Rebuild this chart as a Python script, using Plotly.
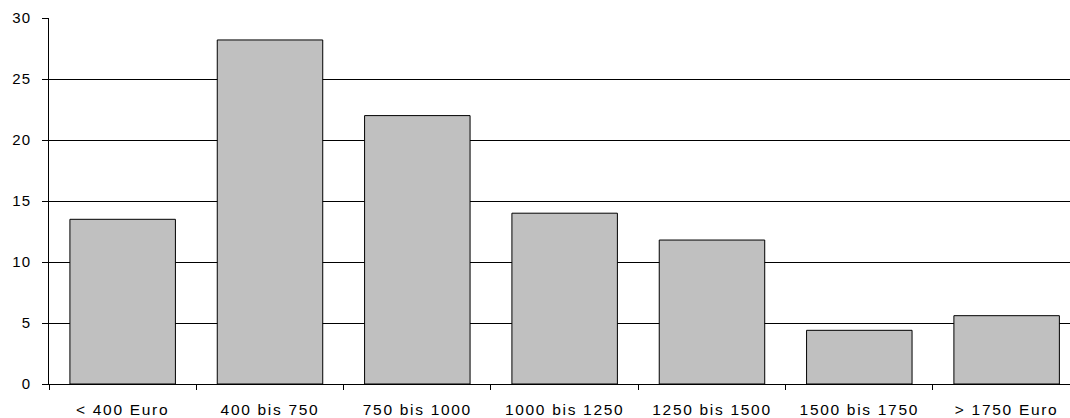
import plotly.graph_objects as go

categories = ["< 400 Euro", "400 bis 750", "750 bis 1000", "1000 bis 1250",
              "1250 bis 1500", "1500 bis 1750", "> 1750 Euro"]
values = [13.5, 28.2, 22.0, 14.0, 11.8, 4.4, 5.6]
y_ticks = [0, 5, 10, 15, 20, 25, 30]

fig = go.Figure(go.Bar(
    x=categories, y=values,
    marker=dict(color="#C0C0C0", line=dict(color="black", width=1)),
))

fig.update_layout(
    width=1070, height=418,
    margin=dict(l=49, r=0, t=18, b=34),
    paper_bgcolor="white", plot_bgcolor="white",
    bargap=0.284,
    showlegend=False,
    font=dict(family="Liberation Sans, Arial", size=15, color="black"),
)
fig.update_xaxes(
    type="category", range=[-0.5, 6.43], automargin=False,
    tickson="boundaries", ticks="outside", ticklen=5, tickcolor="black",
    showline=True, linecolor="black", linewidth=1,
    showgrid=False, tickfont=dict(size=15.5), ticklabelstandoff=11,
)
fig.update_yaxes(
    range=[0, 30], tickvals=y_ticks, ticks="outside", ticklen=6, tickcolor="black",
    showline=True, linecolor="black", linewidth=1, automargin=False,
    showgrid=True, gridcolor="black", gridwidth=1,
    zeroline=False, ticklabelstandoff=8, tickfont=dict(size=15),
)

post = """
document.body.style.margin = '0';
document.body.style.overflow = 'hidden';
var css = document.createElement('style');
css.innerHTML = 'body{margin:0;overflow:hidden;} .xtick text { letter-spacing: 1.7px; } .ytick text { letter-spacing: 1px; }';
document.head.appendChild(css);
"""
fig.write_html("out.html", post_script=post, config={"displayModeBar": False})
